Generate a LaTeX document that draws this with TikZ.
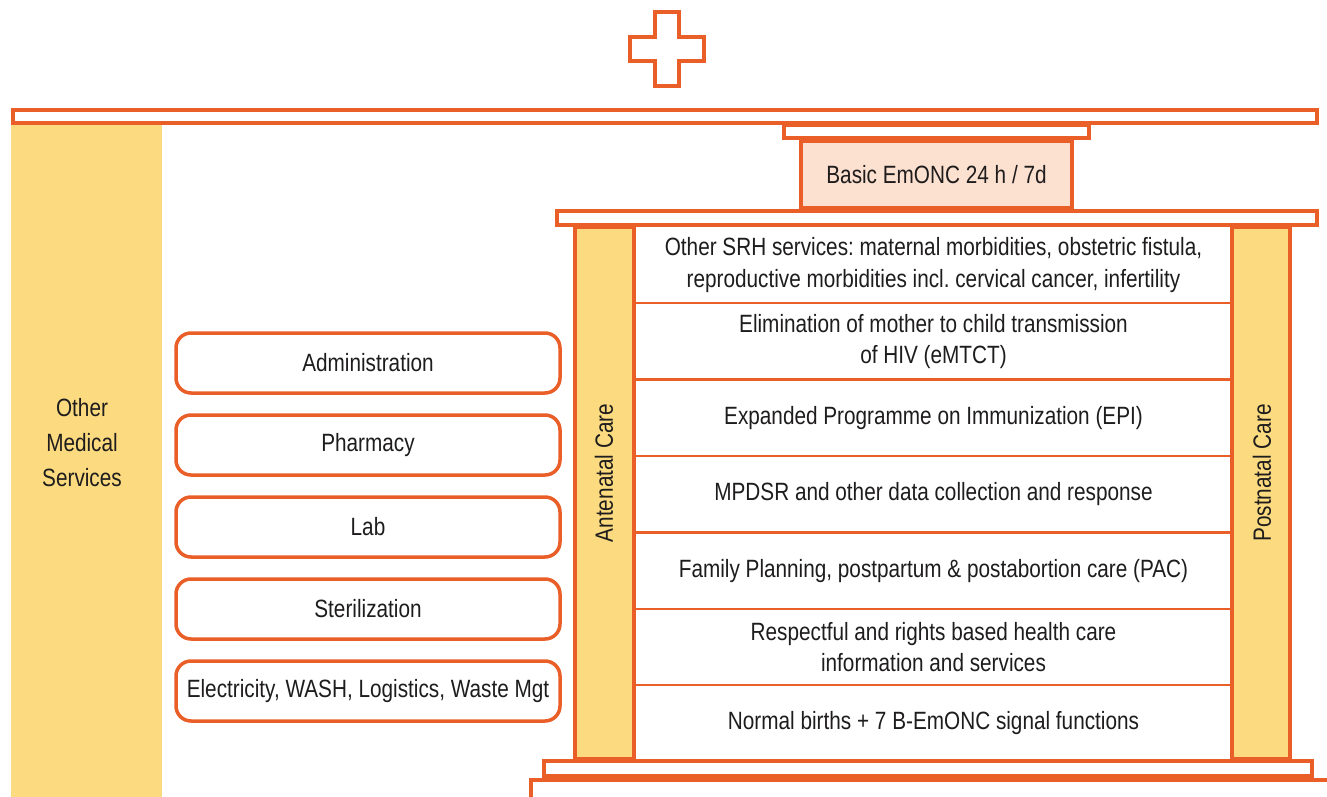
\documentclass[tikz,border=0pt]{standalone}
\usepackage{fontspec}
\setmainfont{Liberation Sans}[FakeStretch=0.83]
\usetikzlibrary{positioning}
\definecolor{orng}{RGB}{234,94,40}
\definecolor{yel}{RGB}{252,219,128}
\definecolor{peach}{RGB}{253,225,208}
\definecolor{ink}{RGB}{30,28,28}

\begin{document}
\frenchspacing
\begin{tikzpicture}[x=1pt,y=-1pt,
    txt/.style={text=ink,font=\fontsize{25}{31.5}\selectfont,align=center,inner sep=0pt},
    bar/.style={draw=orng,line width=4pt,fill=white},
    pillar/.style={draw=orng,line width=4pt,fill=yel,inner sep=0pt},
    unit/.style={txt,draw=orng,line width=3.5pt,rounded corners=15pt,minimum width=384pt,minimum height=60pt},
    row/.style={txt,minimum width=597pt,minimum height=76pt}]
        \useasboundingbox(0,0)rectangle(1327,797);
        \clip(0,0)rectangle(1327,797);
        \draw[draw=orng,line width=4pt](655,12)--(679,12)--(679,37)--(704,37)--(704,61)--(679,61)--(679,86)--(655,86)--(655,61)--(630,61)--(630,37)--(655,37)--cycle;
        \fill[yel](11,125)rectangle(162,797);
        \node[txt,font=\fontsize{25}{35}\selectfont](oms)at(82,443){Other\\Medical\\Services};
        \draw[bar](13,110)rectangle(1317,123);
        \draw[bar](784,125)rectangle(1089,138);
        \node[txt,draw=orng,line width=4pt,fill=peach,minimum width=271pt,minimum height=67pt](emonc)at(936.5,174.5){Basic EmONC 24 h / 7d};
        \draw[bar](557,211)rectangle(1317,225);
        \node[pillar,minimum width=59pt,minimum height=532pt](anc)at(604.5,493){};
        \node[pillar,minimum width=58pt,minimum height=532pt](pnc)at(1261,493){};
        \node[txt,rotate=90]at(604,473){Antenatal Care};
        \node[txt,rotate=90]at(1262,473){Postnatal Care};
        \node[row](r1)at(933.5,265){Other SRH services: maternal morbidities, obstetric fistula,\\reproductive morbidities incl. cervical cancer, infertility};
        \node[row,below=0pt of r1](r2){Elimination of mother to child transmission\\of HIV (eMTCT)};
        \node[row,below=0pt of r2](r3){Expanded Programme on Immunization (EPI)};
        \node[row,below=0pt of r3](r4){MPDSR and other data collection and response};
        \node[row,below=0pt of r4](r5){Family Planning, postpartum \& postabortion care (PAC)};
        \node[row,below=0pt of r5](r6){Respectful and rights based health care\\information and services};
        \node[row,below=0pt of r6](r7){Normal births + 7 B-EmONC signal functions};
        \foreach \r in {r1,r2,r3,r4,r5,r6}
            \draw[orng,line width=2.5pt](\r.south west)--(\r.south east);
        \draw[bar](544,761)rectangle(1312,776);
        \draw[bar](531,780)rectangle(1340,830);
        \node[unit](adm)at(368,363){Administration};
        \node[unit,below=18.5pt of adm](pha){Pharmacy};
        \node[unit,below=18.5pt of pha](lab){Lab};
        \node[unit,below=18.5pt of lab](ste){Sterilization};
        \node[unit,below=18.5pt of ste](ele){Electricity, WASH, Logistics, Waste Mgt};
    \end{tikzpicture}
\end{document}
